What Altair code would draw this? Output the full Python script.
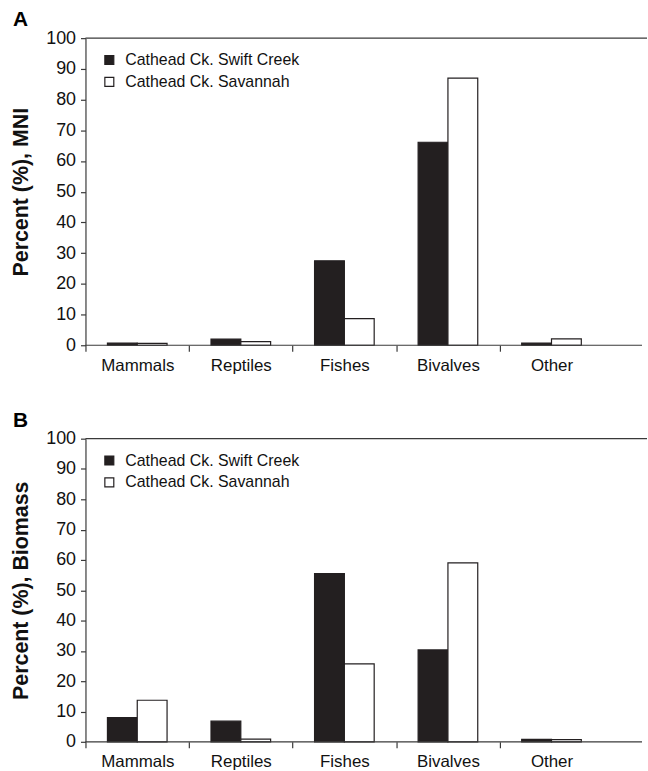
import altair as alt
import pandas as pd

categories = ["Mammals", "Reptiles", "Fishes", "Bivalves", "Other"]
series = ["Cathead Ck. Swift Creek", "Cathead Ck. Savannah"]
swift_mni = [0.7, 2.0, 27.5, 66.1, 0.7]
savannah_mni = [0.6, 1.2, 8.7, 87.0, 2.1]
swift_bio = [8.0, 6.8, 55.5, 30.3, 0.8]
savannah_bio = [13.7, 0.9, 25.7, 59.0, 0.7]
y_ticks = list(range(0, 101, 10))

FONT = "Liberation Sans"
INK = "#231f20"
AXC = "#3a3a3a"
BAND = 104.2


def make_df(a, b):
    rows = []
    for i, c in enumerate(categories):
        rows.append({"category": c, "series": series[0], "value": a[i]})
        rows.append({"category": c, "series": series[1], "value": b[i]})
    return pd.DataFrame(rows)


def y_axis(ytitle):
    return alt.Axis(
        values=y_ticks, title=ytitle, grid=False, labelOverlap=False,
        domainColor=AXC, domainWidth=1.2, tickColor=AXC, tickWidth=1.2, tickSize=5,
        labelFont=FONT, labelFontSize=18, labelColor="#111", labelPadding=5,
        titleFont=FONT, titleFontSize=21.5, titleFontWeight="bold", titleColor="#111",
        titlePadding=13,
    )


def panel(df, ytitle, letter, height):
    yscale = alt.Scale(domain=[0, 100], nice=False)
    base = alt.Chart(df)
    bars = base.mark_bar(stroke=INK, strokeWidth=1.2).encode(
        x=alt.X(
            "category:N",
            sort=categories,
            scale=alt.Scale(domain=categories, range=[0, BAND * 5], paddingInner=0, paddingOuter=0),
            axis=alt.Axis(
                title=None, labelAngle=0, domain=False,
                tickOffset=-BAND / 2, labelOffset=BAND / 2,
                tickSize=6, tickColor=AXC, tickWidth=1.2,
                labelFont=FONT, labelFontSize=17, labelColor="#111",
                labelPadding=6,
            ),
        ),
        xOffset=alt.XOffset(
            "series:N", sort=series,
            scale=alt.Scale(domain=series, paddingInner=0, paddingOuter=0.737),
        ),
        y=alt.Y("value:Q", scale=yscale, axis=y_axis(ytitle)),
        color=alt.Color(
            "series:N",
            scale=alt.Scale(domain=series, range=[INK, "#ffffff"]),
            legend=alt.Legend(
                title=None, orient="none", legendX=16, legendY=14, padding=0,
                symbolType="square", symbolSize=81, symbolStrokeColor=INK,
                symbolStrokeWidth=1.2, labelFont=FONT, labelFontSize=16,
                labelColor="#111", labelOffset=8, rowPadding=6, labelLimit=0,
            ),
        ),
    )
    base_rule = alt.Chart(pd.DataFrame({"value": [0]})).mark_rule(
        color=AXC, strokeWidth=1.2
    ).encode(y=alt.Y("value:Q", scale=yscale, axis=y_axis(ytitle)), x=alt.value(0), x2=alt.value(560))
    top_rule = alt.Chart(pd.DataFrame({"value": [100]})).mark_rule(
        color=AXC, strokeWidth=1.2
    ).encode(y=alt.Y("value:Q", scale=yscale, axis=y_axis(ytitle)), x=alt.value(0), x2=alt.value(565))
    lab = alt.Chart(pd.DataFrame({"t": [letter]})).mark_text(
        font=FONT, fontSize=21, fontWeight="bold", align="left",
        baseline="middle", color="#000",
    ).encode(text="t:N", x=alt.value(-73), y=alt.value(-18))
    return alt.layer(bars, base_rule, top_rule, lab).properties(width=565, height=height)


top = panel(make_df(swift_mni, savannah_mni), "Percent (%), MNI", "A", 309)
bottom = panel(make_df(swift_bio, savannah_bio), "Percent (%), Biomass", "B", 305)

chart = alt.vconcat(top, bottom, spacing=37).properties(
    padding={"left": 10, "top": 7, "right": 0, "bottom": 0}
).configure_view(stroke=None).resolve_scale(color="independent")

chart.save("out.html", embed_options={"renderer": "svg", "actions": False})
